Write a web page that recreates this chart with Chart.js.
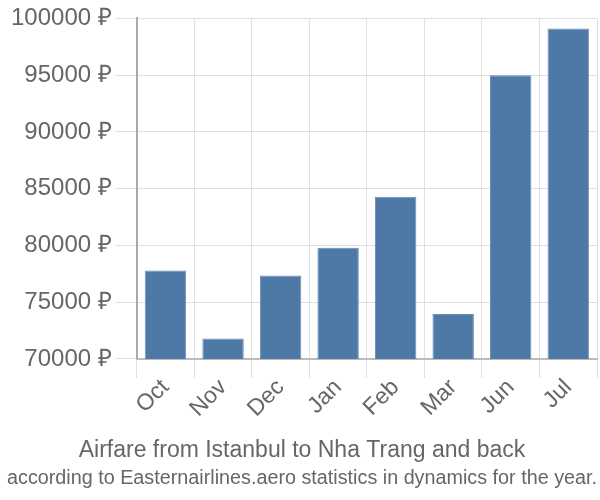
<!DOCTYPE html>
<html>
<head>
<meta charset="utf-8">
<script src="https://cdn.jsdelivr.net/npm/chart.js@4.4.1/dist/chart.umd.min.js"></script>
<style>
html,body{margin:0;padding:0;background:#fff;}
#wrap{width:600px;height:500px;}
</style>
</head>
<body>
<div id="wrap"><canvas id="c" width="600" height="500"></canvas></div>
<script>
const categories = ["Oct","Nov","Dec","Jan","Feb","Mar","Jun","Jul"];
const prices = [77800, 71800, 77350, 79800, 84300, 73950, 95000, 99100];
const yTicks = [70000, 75000, 80000, 85000, 90000, 95000, 100000];
const titleText = "Airfare from Istanbul to Nha Trang and back";
const subtitleText = "according to Easternairlines.aero statistics in dynamics for the year.";

Chart.defaults.font.family = "'Liberation Sans', Arial, sans-serif";
Chart.defaults.color = "#666";

new Chart(document.getElementById('c'), {
  type: 'bar',
  data: {
    labels: categories,
    datasets: [{
      data: prices,
      backgroundColor: '#4e79a7',
      borderColor: '#6a8fb8',
      borderWidth: 1,
      barPercentage: 0.9,
      categoryPercentage: 0.8
    }]
  },
  options: {
    responsive: false,
    animation: false,
    layout: {padding: {left: 7, right: 3, top: -10, bottom: 0}},
    plugins: {
      legend: {display: false},
      tooltip: {enabled: false},
      subtitle: {display: true, text: titleText, position: 'bottom', color: '#666',
        font: {size: 23, weight: 'normal'}, padding: {top: 18, bottom: 2}},
      title: {display: true, text: subtitleText, position: 'bottom', color: '#666',
        font: {size: 20, weight: 'normal'}, padding: {top: 0, bottom: 10}}
    },
    scales: {
      x: {
        grid: {color: '#e0e0e0', lineWidth: 1, tickLength: 19, offset: true},
        border: {color: '#bbb', width: 2},
        ticks: {font: {size: 23}, color: '#666', maxRotation: 45, minRotation: 45, padding: -4}
      },
      y: {
        min: 70000, max: 100000,
        afterBuildTicks: (s) => { s.ticks = yTicks.map(v => ({value: v})); },
        grid: {color: '#e0e0e0', lineWidth: 1, tickLength: 21},
        border: {color: '#aaa', width: 2},
        ticks: {font: {size: 24}, color: '#666', padding: 4,
          callback: (v) => v + ' ₽'}
      }
    }
  }
});
</script>
</body>
</html>
